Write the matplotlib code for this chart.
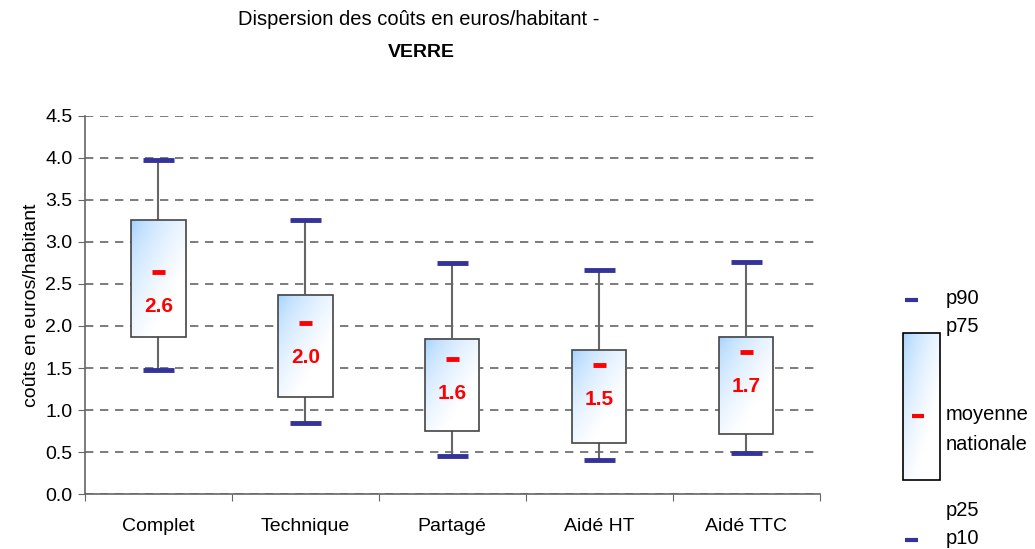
import numpy as np
import matplotlib.pyplot as plt
from matplotlib.patches import Rectangle

plt.rcParams['font.family'] = ['Liberation Sans', 'DejaVu Sans']

categories = ["Complet", "Technique", "Partagé", "Aidé HT", "Aidé TTC"]
p10 = [1.48, 0.85, 0.45, 0.40, 0.49]
p25 = [1.87, 1.15, 0.75, 0.61, 0.71]
p75 = [3.26, 2.37, 1.85, 1.71, 1.87]
p90 = [3.98, 3.26, 2.75, 2.67, 2.76]
moyenne = [2.64, 2.04, 1.61, 1.54, 1.69]
labels = ["2.6", "2.0", "1.6", "1.5", "1.7"]

BLUE = "#333399"
RED = "#ff0000"


def gradient(n=80):
    # light blue at top-left, fading to white at bottom-right
    u = np.linspace(0, 1, n)
    v = np.linspace(0, 1, n)
    U, V = np.meshgrid(u, v)
    t = np.clip((U * 0.9 + V) / 1.3, 0, 1) ** 0.5
    c0 = np.array([0.58, 0.79, 1.0])
    c1 = np.array([1.0, 1.0, 1.0])
    return c0[None, None, :] * (1 - t[..., None]) + c1[None, None, :] * t[..., None]


fig = plt.figure(figsize=(10.35, 5.49), dpi=100)
ax = fig.add_axes([0.082, 0.100, 0.710, 0.689])

x = np.arange(len(categories))
bw = 0.37
cw = 0.105
grad = gradient()

for i in x:
    ax.plot([i, i], [p10[i], p25[i]], color="#666666", lw=1.5, zorder=3)
    ax.plot([i, i], [p75[i], p90[i]], color="#666666", lw=1.5, zorder=3)
    ax.plot([i - cw, i + cw], [p10[i]] * 2, color=BLUE, lw=3.5, zorder=4, solid_capstyle="butt")
    ax.plot([i - cw, i + cw], [p90[i]] * 2, color=BLUE, lw=3.5, zorder=4, solid_capstyle="butt")
    ax.imshow(grad, extent=[i - bw / 2, i + bw / 2, p25[i], p75[i]], aspect="auto",
              origin="upper", zorder=3)
    ax.add_patch(Rectangle((i - bw / 2, p25[i]), bw, p75[i] - p25[i], fill=False,
                           edgecolor="#444444", lw=1.2, zorder=4))
    ax.plot([i - 0.045, i + 0.045], [moyenne[i]] * 2, color=RED, lw=3.5, zorder=5,
            solid_capstyle="butt")
    ax.text(i, moyenne[i] - 0.41, labels[i], color=RED, fontsize=15, fontweight="bold",
            ha="center", va="center", zorder=6)

ax.set_xlim(-0.5, len(categories) - 0.5)
ax.set_ylim(0, 4.5)
ax.set_yticks(np.arange(0, 4.51, 0.5))
ax.set_yticklabels([f"{v:.1f}" for v in np.arange(0, 4.51, 0.5)], fontsize=14)
ax.set_xticks(np.arange(-0.5, len(categories)), minor=False)
ax.set_xticklabels([])
ax.set_xticks(x, minor=True)
ax.set_xticklabels(categories, minor=True, fontsize=14)
ax.tick_params(axis="x", which="minor", length=0, pad=17)
ax.tick_params(axis="x", which="major", length=5, color="#666666")
ax.tick_params(axis="y", length=5, color="#666666", pad=4)
ax.yaxis.grid(True, linestyle=(0, (5, 4)), color="#666666", lw=1.2)
ax.set_axisbelow(True)
for s in ["top", "right"]:
    ax.spines[s].set_visible(False)
for s in ["left", "bottom"]:
    ax.spines[s].set_color("#666666")
    ax.spines[s].set_linewidth(1.2)
ax.set_ylabel("coûts en euros/habitant", fontsize=14, labelpad=4)

fig.text(0.405, 0.965, "Dispersion des coûts en euros/habitant -", ha="center", va="center",
         fontsize=14.5)
fig.text(0.407, 0.905, "VERRE", ha="center", va="center", fontsize=14, fontweight="bold")

# legend drawn in pixel coordinates
lg = fig.add_axes([0, 0, 1, 1], facecolor="none")
lg.set_xlim(0, 1035)
lg.set_ylim(549, 0)
lg.axis("off")
lg.plot([905, 918], [300, 300], color=BLUE, lw=3, solid_capstyle="butt")
lg.plot([905, 918], [540, 540], color=BLUE, lw=3, solid_capstyle="butt")
lg.imshow(grad, extent=[903, 940, 480, 333], aspect="auto", zorder=2)
lg.add_patch(Rectangle((903, 333), 37, 147, fill=False, edgecolor="black", lw=1.2, zorder=3))
lg.plot([912, 924], [416, 416], color=RED, lw=3, solid_capstyle="butt", zorder=4)
for txt, yy in [("p90", 299), ("p75", 327), ("moyenne", 415), ("nationale", 444),
                ("p25", 511), ("p10", 539)]:
    lg.text(946, yy, txt, fontsize=14.5, va="center", ha="left")
lg.set_xlim(0, 1035)
lg.set_ylim(549, 0)

fig.savefig("out.png", dpi=100)
